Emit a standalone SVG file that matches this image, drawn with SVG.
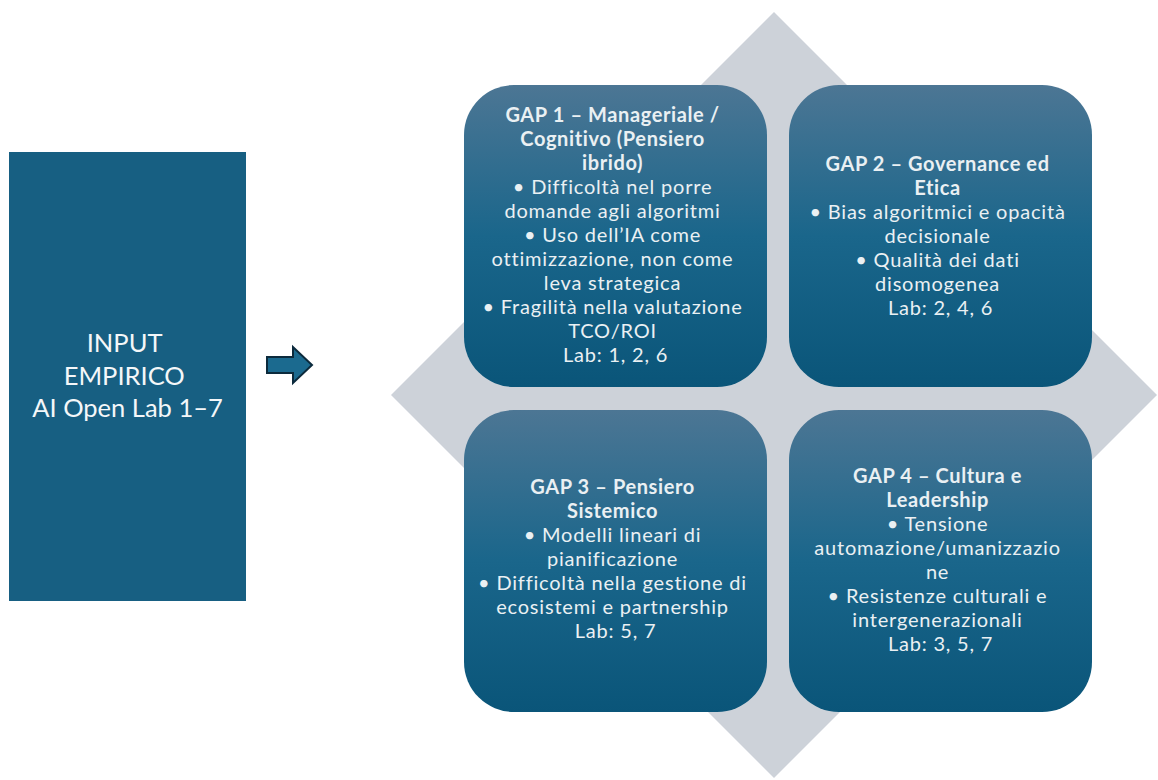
<svg xmlns="http://www.w3.org/2000/svg" width="1158" height="780" viewBox="0 0 1158 780">
  <style>
    .t { font-family: Lato, "Liberation Sans", sans-serif; fill: #eaf0f3; text-anchor: middle; }
    .gap { font-size: 20px; letter-spacing: 0.8px; }
    .gap .h { font-weight: bold; letter-spacing: 0.6px; }
    .inp { font-size: 25.5px; fill: #f4f7f9; }
  </style>
  <defs>
    <linearGradient id="tile" x1="0" y1="0" x2="0" y2="1">
      <stop offset="0" stop-color="#4c7694"/>
      <stop offset="0.5" stop-color="#1a668b"/>
      <stop offset="1" stop-color="#0a5579"/>
    </linearGradient>
  </defs>

  <!-- background diamond behind the four tiles -->
  <polygon points="774,12 1157,395 774,778 391,395" fill="#cdd2d9"/>

  <!-- input block -->
  <g id="input">
    <rect x="9" y="152" width="237" height="449" fill="#175f82"/>
    <text class="t inp" x="127.5">
      <tspan x="127.5" y="352">INPUT</tspan>
      <tspan x="127.5" y="385">EMPIRICO</tspan>
      <tspan x="127.5" y="417">AI Open Lab 1–7</tspan>
    </text>
  </g>

  <!-- connector -->
  <g id="connectors">
    <polygon points="267,357 293,357 293,347 312,365 293,383 293,373 267,373" fill="#1b6a8f" stroke="#0c2a3c" stroke-width="2" stroke-linejoin="miter"/>
  </g>

  <g id="gap1">
    <rect x="464" y="85" width="303" height="302" rx="50" fill="url(#tile)"/>
    <text class="t gap">
      <tspan class="h" x="615.5" y="122">GAP 1 – Manageriale /</tspan>
      <tspan class="h" x="615.5" y="146">Cognitivo (Pensiero</tspan>
      <tspan class="h" x="615.5" y="170">ibrido)</tspan>
      <tspan x="615.5" y="194">• Difficoltà nel porre</tspan>
      <tspan x="615.5" y="218">domande agli algoritmi</tspan>
      <tspan x="615.5" y="242">• Uso dell’IA come</tspan>
      <tspan x="615.5" y="266">ottimizzazione, non come</tspan>
      <tspan x="615.5" y="290">leva strategica</tspan>
      <tspan x="615.5" y="314">• Fragilità nella valutazione</tspan>
      <tspan x="615.5" y="338">TCO/ROI</tspan>
      <tspan x="615.5" y="362">Lab: 1, 2, 6</tspan>
    </text>
  </g>

  <g id="gap2">
    <rect x="789" y="85" width="303" height="302" rx="50" fill="url(#tile)"/>
    <text class="t gap">
      <tspan class="h" x="940.5" y="171">GAP 2 – Governance ed</tspan>
      <tspan class="h" x="940.5" y="195">Etica</tspan>
      <tspan x="940.5" y="219">• Bias algoritmici e opacità</tspan>
      <tspan x="940.5" y="243">decisionale</tspan>
      <tspan x="940.5" y="267">• Qualità dei dati</tspan>
      <tspan x="940.5" y="291">disomogenea</tspan>
      <tspan x="940.5" y="315">Lab: 2, 4, 6</tspan>
    </text>
  </g>

  <g id="gap3">
    <rect x="464" y="410" width="303" height="302" rx="50" fill="url(#tile)"/>
    <text class="t gap">
      <tspan class="h" x="615.5" y="494">GAP 3 – Pensiero</tspan>
      <tspan class="h" x="615.5" y="518">Sistemico</tspan>
      <tspan x="615.5" y="542">• Modelli lineari di</tspan>
      <tspan x="615.5" y="566">pianificazione</tspan>
      <tspan x="615.5" y="590">• Difficoltà nella gestione di</tspan>
      <tspan x="615.5" y="614">ecosistemi e partnership</tspan>
      <tspan x="615.5" y="638">Lab: 5, 7</tspan>
    </text>
  </g>

  <g id="gap4">
    <rect x="789" y="410" width="303" height="302" rx="50" fill="url(#tile)"/>
    <text class="t gap">
      <tspan class="h" x="940.5" y="483">GAP 4 – Cultura e</tspan>
      <tspan class="h" x="940.5" y="507">Leadership</tspan>
      <tspan x="940.5" y="531">• Tensione</tspan>
      <tspan x="940.5" y="555">automazione/umanizzazio</tspan>
      <tspan x="940.5" y="579">ne</tspan>
      <tspan x="940.5" y="603">• Resistenze culturali e</tspan>
      <tspan x="940.5" y="627">intergenerazionali</tspan>
      <tspan x="940.5" y="651">Lab: 3, 5, 7</tspan>
    </text>
  </g>
</svg>
